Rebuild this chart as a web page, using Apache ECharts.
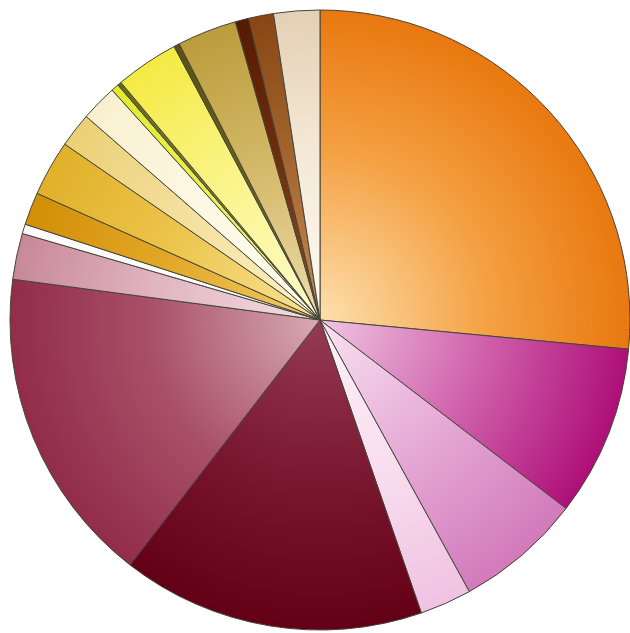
<!DOCTYPE html>
<html>
<head>
<meta charset="utf-8">
<script src="https://cdn.jsdelivr.net/npm/echarts@6/dist/echarts.min.js"></script>
<style>html,body{margin:0;padding:0;background:#fff;}#c{width:630px;height:633px;}</style>
</head>
<body>
<div id="c"></div>
<script>
// Slice shares (percent), clockwise from 12 o'clock
const categories = ['A','B','C','D','E','F','G','H','I','J','K','L','M','N','O','P','Q','R','S','T'];
const values = [26.5, 8.9, 6.6, 2.7, 15.8, 16.6, 2.4, 0.5, 1.7, 2.9, 1.8, 1.9, 0.4, 0.2, 3.3, 0.3, 3.1, 0.7, 1.3, 2.4];
// [centre colour, middle colour, rim colour]
const sliceColors = [
  ['#fde0ae', '#f4a042', '#e9780f'],
  ['#efc6e2', '#cf5eaa', '#ae0f78'],
  ['#f9e2f2', '#e4a6d4', '#d27aba'],
  ['#fdf2f9', '#f8dcee', '#f0c2e2'],
  ['#963a54', '#78162e', '#640016'],
  ['#d8aab4', '#a85068', '#922c4a'],
  ['#f5dee4', '#e0b4c0', '#c88898'],
  ['#fbf4f4', '#ffffff', '#fdf8f8'],
  ['#f2cc66', '#e2a626', '#d28f08'],
  ['#f9e498', '#ecc44a', '#e2b02a'],
  ['#fcf2c6', '#f4e09e', '#ecd076'],
  ['#fffef2', '#fdf8e2', '#f8f0d0'],
  ['#f6f894', '#ecf050', '#e2ea2c'],
  ['#8a8a2a', '#7a7a20', '#6a6a18'],
  ['#fefcd0', '#faf488', '#f4ea44'],
  ['#7a7020', '#6a6018', '#5a5010'],
  ['#ecdcaa', '#d2b866', '#bc9c3c'],
  ['#8e4c22', '#6e2e0c', '#561a02'],
  ['#c48c54', '#a2642c', '#884614'],
  ['#fffbf4', '#f4e8d6', '#e4d0b4']
];
const cx = 320, cy = 320, R = 310;
const data = categories.map((name, i) => ({
  name: name,
  value: values[i],
  itemStyle: {
    color: {
      type: 'radial', x: cx, y: cy, r: R, global: true,
      colorStops: [
        {offset: 0, color: sliceColors[i][0]},
        {offset: 0.55, color: sliceColors[i][1]},
        {offset: 1, color: sliceColors[i][2]}
      ]
    }
  }
}));
const chart = echarts.init(document.getElementById('c'), null, {renderer: 'canvas'});
chart.setOption({
  animation: false,
  backgroundColor: '#ffffff',
  series: [{
    type: 'pie',
    center: [cx, cy],
    radius: [0, R],
    startAngle: 90,
    clockwise: true,
    label: {show: false},
    labelLine: {show: false},
    emphasis: {disabled: true},
    itemStyle: {borderColor: '#45453a', borderWidth: 1},
    data: data
  }]
});
</script>
</body>
</html>
